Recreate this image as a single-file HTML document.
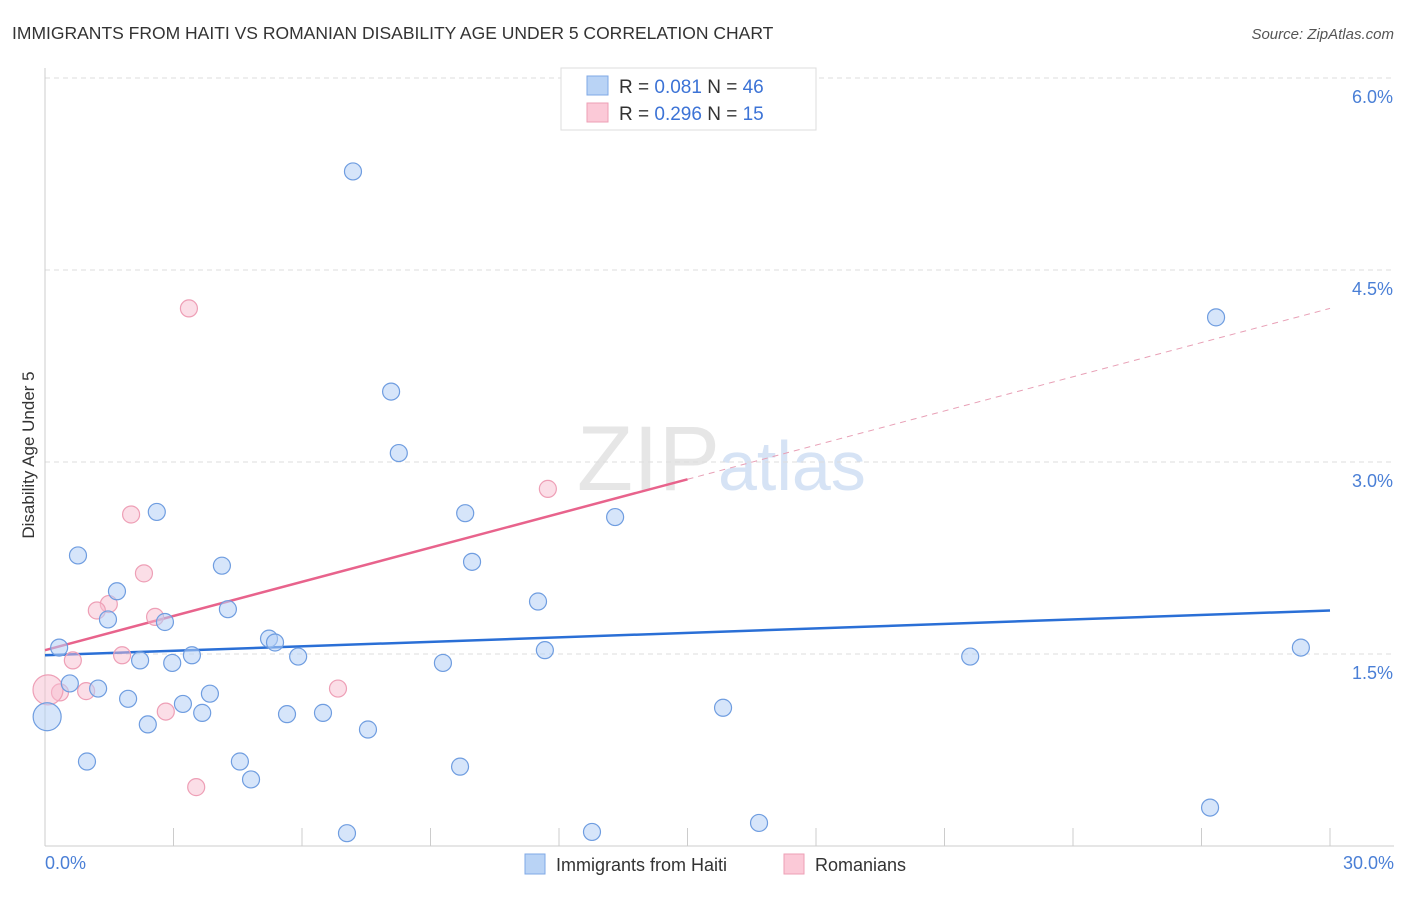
<!DOCTYPE html>
<html><head><meta charset="utf-8">
<style>
body{margin:0;background:#fff;font-family:"Liberation Sans",sans-serif;}
svg text{font-family:"Liberation Sans",sans-serif;}
</style></head>
<body>
<svg id="chart" width="1406" height="892" xmlns="http://www.w3.org/2000/svg">
<text x="12" y="39" font-size="17.5" fill="#333">IMMIGRANTS FROM HAITI VS ROMANIAN DISABILITY AGE UNDER 5 CORRELATION CHART</text>
<text x="1394" y="39" font-size="15" fill="#555" font-style="italic" text-anchor="end">Source: ZipAtlas.com</text>
<text x="720" y="490" font-size="92" fill="#e6e6e6" text-anchor="end" font-family="Liberation Serif">ZIP</text>
<text x="718" y="490" font-size="70" fill="#d6e3f5">atlas</text>
<g id="grid"></g>
<g id="axes"></g>
<g id="lines"></g>
<g id="points"></g>
<text transform="translate(34,455) rotate(-90)" font-size="17" fill="#333" text-anchor="middle">Disability Age Under 5</text>
<text x="45" y="869" font-size="18" fill="#4a7fd6">0.0%</text>
<text x="1394" y="869" font-size="18" fill="#4a7fd6" text-anchor="end">30.0%</text>
<g>
<rect x="561" y="68" width="255" height="62" fill="#fff" stroke="#ddd"/>
<rect x="587" y="76" width="21" height="19" fill="#b9d3f5" stroke="#7fa8e6"/>
<rect x="587" y="103" width="21" height="19" fill="#fbc9d7" stroke="#ee9fb6"/>
<text x="619" y="93" font-size="19" fill="#333">R = <tspan fill="#3c73d6">0.081</tspan>   N = <tspan fill="#3c73d6">46</tspan></text>
<text x="619" y="120" font-size="19" fill="#333">R = <tspan fill="#3c73d6">0.296</tspan>   N = <tspan fill="#3c73d6"> 15</tspan></text>
</g>
<g>
<rect x="525" y="854" width="20" height="20" fill="#b9d3f5" stroke="#7fa8e6"/>
<text x="556" y="871" font-size="18" fill="#333">Immigrants from Haiti</text>
<rect x="784" y="854" width="20" height="20" fill="#fbc9d7" stroke="#ee9fb6"/>
<text x="815" y="871" font-size="18" fill="#333">Romanians</text>
</g>
</svg>
<script>
const blueX=[7.19,27.34,8.08,8.26,2.61,9.81,13.31,0.77,4.13,9.97,1.68,11.51,4.27,1.47,2.80,0.33,5.23,5.37,11.67,29.32,3.43,5.91,21.6,2.22,2.97,9.29,0.58,1.24,3.85,1.94,3.22,3.67,5.65,6.49,15.83,0.05,2.40,7.54,0.98,4.55,4.81,9.69,27.2,16.67,7.05,12.77];
const blueY=[5.27,4.13,3.55,3.07,2.61,2.60,2.57,2.27,2.19,2.22,1.99,1.91,1.85,1.77,1.75,1.55,1.62,1.59,1.53,1.55,1.49,1.48,1.48,1.45,1.43,1.43,1.27,1.23,1.19,1.15,1.11,1.04,1.03,1.04,1.08,1.01,0.95,0.91,0.66,0.66,0.52,0.62,0.30,0.18,0.10,0.11];
const pinkX=[3.36,11.74,2.01,2.31,1.49,1.21,2.57,1.80,0.65,6.84,2.82,3.53,0.96,0.35,0.07];
const pinkY=[4.20,2.79,2.59,2.13,1.89,1.84,1.79,1.49,1.45,1.23,1.05,0.46,1.21,1.20,1.22];
const blueTrend=[1.49,1.84];
const pinkTrend=[1.53,4.20];
const yTicks=[1.5,3.0,4.5,6.0];
const yTickLabels=["1.5%","3.0%","4.5%","6.0%"];
const xTicks=[0,3,6,9,12,15,18,21,24,27,30];
const NS="http://www.w3.org/2000/svg";
const X=v=>45+v/30*1285, Y=v=>846-v*128;
function mk(tag,attrs,parent){const e=document.createElementNS(NS,tag);for(const k in attrs)e.setAttribute(k,attrs[k]);document.getElementById(parent).appendChild(e);return e;}
yTicks.forEach((t,i)=>{
 const l=mk('line',{x1:45,x2:1394,y1:Y(t),y2:Y(t),stroke:'#ddd','stroke-dasharray':'5,4'},'grid');
 
 
 const tx=mk('text',{x:1393,y:Y(t)+25,'font-size':18,fill:'#4a7fd6','text-anchor':'end'},'grid');
 tx.textContent=yTickLabels[i];
 
 
});
const ax=mk('line',{x1:45,x2:45,y1:68,y2:846,stroke:'#ccc'},'axes');


const bx=mk('line',{x1:45,x2:1394,y1:846,y2:846,stroke:'#ccc'},'axes');


xTicks.forEach(t=>{
 const l=mk('line',{x1:X(t),x2:X(t),y1:828,y2:846,stroke:'#ccc'},'axes');
 
 
});
const bl=mk('line',{x1:X(0),y1:Y(blueTrend[0]),x2:X(30),y2:Y(blueTrend[1]),stroke:'#2a6fd6','stroke-width':2.5},'lines');


const pm=pinkTrend[0]+(pinkTrend[1]-pinkTrend[0])*0.5;
const ps=mk('line',{x1:X(0),y1:Y(pinkTrend[0]),x2:X(15),y2:Y(pm),stroke:'#e8638c','stroke-width':2.5},'lines');


const pd=mk('line',{x1:X(15),y1:Y(pm),x2:X(30),y2:Y(pinkTrend[1]),stroke:'#e8a0b6','stroke-width':1,'stroke-dasharray':'6,5'},'lines');


pinkX.forEach((x,i)=>{
 const c=mk('circle',{cx:X(x),cy:Y(pinkY[i]),r:i===14?15:8.5,fill:'rgba(248,190,208,0.5)',stroke:'#ee9fb6','stroke-width':1.2},'points');
 
 
});
blueX.forEach((x,i)=>{
 const c=mk('circle',{cx:X(x),cy:Y(blueY[i]),r:i===35?14:8.5,fill:'rgba(180,208,245,0.55)',stroke:'#6f9de0','stroke-width':1.2},'points');
 
 
});
</script>
</body></html>
